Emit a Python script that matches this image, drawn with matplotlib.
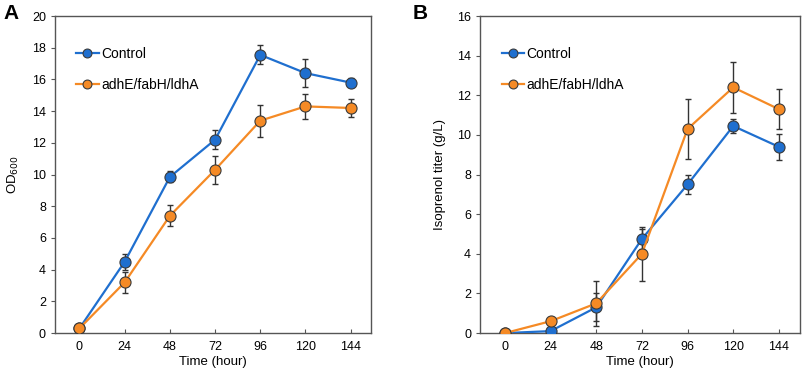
import numpy as np
import matplotlib
matplotlib.use("Agg")
import matplotlib.pyplot as plt

plt.rcParams['font.family'] = ['Liberation Sans', 'DejaVu Sans']

time = [0, 24, 48, 72, 96, 120, 144]
labels = ["Control", "adhE/fabH/ldhA"]

# panel A: OD600
od_ctrl = [0.3, 4.5, 9.85, 12.2, 17.55, 16.4, 15.8]
od_ctrl_err = [0.1, 0.5, 0.35, 0.6, 0.6, 0.9, 0.3]
od_mut = [0.3, 3.2, 7.4, 10.3, 13.4, 14.3, 14.2]
od_mut_err = [0.1, 0.65, 0.65, 0.9, 1.0, 0.8, 0.55]

# panel B: isoprenol titer
iso_ctrl = [0.0, 0.1, 1.3, 4.75, 7.5, 10.45, 9.4]
iso_ctrl_err = [0.0, 0.1, 0.7, 0.5, 0.5, 0.35, 0.65]
iso_mut = [0.0, 0.6, 1.5, 4.0, 10.3, 12.4, 11.3]
iso_mut_err = [0.0, 0.2, 1.15, 1.35, 1.5, 1.3, 1.0]

blue = '#1f6fcf'
orange = '#f58a25'
edge = '#3a3a3a'


def panel(ax, ctrl, ctrl_err, mut, mut_err, ymax, ystep, ylabel):
    for y, e in [(ctrl, ctrl_err), (mut, mut_err)]:
        ax.errorbar(time, y, yerr=e, fmt='none', ecolor='#333333',
                    elinewidth=1.0, capsize=2, capthick=1.0, zorder=2)
    hs = []
    for y, c, lab in [(ctrl, blue, labels[0]), (mut, orange, labels[1])]:
        h, = ax.plot(time, y, '-o', color=c, lw=1.6, ms=8, mfc=c,
                     mec=edge, mew=0.8, label=lab, zorder=3)
        hs.append(h)
    ax.set_xlim(-13, 155)
    ax.set_ylim(0, ymax)
    ax.set_xticks(time)
    ax.set_yticks(np.arange(0, ymax + 0.1, ystep))
    ax.tick_params(axis='x', direction='in', length=3, labelsize=9,
                   color='#555555', pad=6)
    ax.tick_params(axis='y', direction='out', length=3, labelsize=9,
                   color='#555555')
    for s in ax.spines.values():
        s.set_color('#555555')
        s.set_linewidth(1.0)
    ax.set_xlabel("Time (hour)", fontsize=9.5, labelpad=2)
    ax.set_ylabel(ylabel, fontsize=9.5, labelpad=8)
    ax.legend(handles=hs, loc='upper left', bbox_to_anchor=(0.05, 0.92),
              frameon=False, fontsize=10, handlelength=1.6,
              handletextpad=0.2, labelspacing=1.2, markerscale=0.8,
              borderaxespad=0)
    return ax


fig = plt.figure(figsize=(8.03, 3.73), dpi=100)
axA = fig.add_axes([0.0685, 0.107, 0.394, 0.85])
axB = fig.add_axes([0.598, 0.107, 0.398, 0.85])

panel(axA, od_ctrl, od_ctrl_err, od_mut, od_mut_err, 20, 2, "OD$_{600}$")
panel(axB, iso_ctrl, iso_ctrl_err, iso_mut, iso_mut_err, 16, 2,
      "Isoprenol titer (g/L)")

fig.text(0.004, 0.99, "A", fontsize=15, fontweight='bold', va='top')
fig.text(0.514, 0.99, "B", fontsize=15, fontweight='bold', va='top')

fig.savefig("out.png", dpi=100)
